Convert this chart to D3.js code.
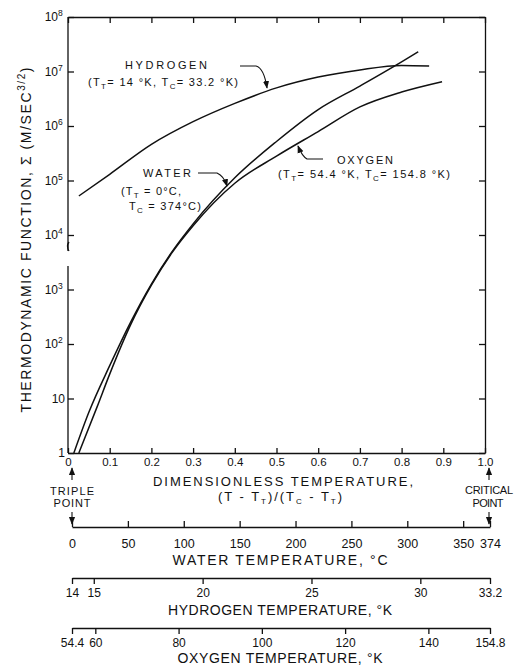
<!DOCTYPE html>
<html>
<head>
<meta charset="utf-8">
<script src="https://cdn.jsdelivr.net/npm/d3@7"></script>
<style>
body { margin: 0; background: #fff; }
svg { font-family: "Liberation Sans", Arial, sans-serif; fill: #111; }
.axis path, .axis line { stroke: #111; stroke-width: 1.3; }
.axis text { fill: #111; }
.curve { fill: none; stroke: #111; stroke-width: 1.5; }
.leader { fill: none; stroke: #111; stroke-width: 1.1; }
</style>
</head>
<body>
<svg width="517" height="667"></svg>
<script>
// dimensionless temperature (T - Tt)/(Tc - Tt) vs sigma
const hydrogenX = [0.026, 0.1, 0.2, 0.3, 0.4, 0.5, 0.6, 0.7, 0.8, 0.866];
const hydrogenSigma = [5.2e4, 1.3e5, 4.6e5, 1.2e6, 2.6e6, 5.0e6, 7.9e6, 1.07e7, 1.29e7, 1.26e7];

const waterX = [0.014, 0.05, 0.1, 0.15, 0.2, 0.25, 0.3, 0.4, 0.5, 0.6, 0.7, 0.8, 0.84];
const waterSigma = [1, 5.6, 40, 250, 1.26e3, 5.0e3, 1.6e4, 1.12e5, 5.2e5, 2.0e6, 5.4e6, 1.5e7, 2.3e7];

const oxygenX = [0.026, 0.07, 0.1, 0.15, 0.2, 0.25, 0.3, 0.4, 0.5, 0.6, 0.7, 0.8, 0.897];
const oxygenSigma = [1, 7.1, 28, 224, 1.2e3, 4.8e3, 1.48e4, 8.9e4, 2.8e5, 7.9e5, 2.24e6, 4.2e6, 6.5e6];

const xTicks = [0, 0.1, 0.2, 0.3, 0.4, 0.5, 0.6, 0.7, 0.8, 0.9, 1.0];
const yTicks = [1, 10, 1e2, 1e3, 1e4, 1e5, 1e6, 1e7, 1e8];

const waterTicks = [0, 50, 100, 150, 200, 250, 300, 350, 374];
const hydrogenTicks = [14, 15, 20, 25, 30, 33.2];
const oxygenTicks = [54.4, 60, 80, 100, 120, 140, 154.8];

const svg = d3.select('svg');
const plotLeft = 68, plotRight = 485, plotTop = 17, plotBottom = 453;

var x = d3.scaleLinear().domain([0, 1]).range([plotLeft, plotRight]);
var y = d3.scaleLog().domain([1, 1e8]).range([plotBottom, plotTop]);

// frame: top, right, bottom axes (ticks inward)
svg.append('g').attr('class', 'axis')
    .attr('transform', `translate(0,${plotTop})`)
    .call(d3.axisBottom(x).tickValues(xTicks).tickSize(6).tickSizeOuter(0).tickFormat(''));
svg.append('g').attr('class', 'axis')
    .attr('transform', `translate(${plotRight},0)`)
    .call(d3.axisLeft(y).tickValues(yTicks).tickSize(6).tickSizeOuter(0).tickFormat(''));
svg.append('g').attr('class', 'axis')
    .attr('transform', `translate(0,${plotBottom})`)
    .call(d3.axisBottom(x).tickValues(xTicks).tickSize(-5).tickSizeOuter(0).tickPadding(5)
        .tickFormat(d => d === 0 ? '0' : d === 1 ? '1.0' : d.toFixed(1)))
    .selectAll('text').style('font-size', '11.5px');

// left axis, drawn with a break between 10^4 and 10^3
var yAxisLeft = svg.append('g').attr('class', 'axis')
    .attr('transform', `translate(${plotLeft},0)`)
    .call(d3.axisRight(y).tickValues(yTicks).tickSize(6).tickFormat(''));
yAxisLeft.select('.domain').remove();
yAxisLeft.append('path').attr('d', `M0,${plotTop}V251M0,266V${plotBottom}`);
yAxisLeft.append('path').attr('d', 'M1,242q-3,4,0,9').style('fill', 'none');

var yLabels = svg.append('g').style('font-size', '12px');
yTicks.forEach(v => {
    const p = Math.round(Math.log10(v));
    yLabels.append('text')
        .attr('x', p < 2 ? plotLeft - 3 : plotLeft - 10)
        .attr('y', y(v) + 4)
        .attr('text-anchor', 'end')
        .text(p === 0 ? '1' : '10');
    if (p >= 2) {
        yLabels.append('text')
            .attr('x', plotLeft - 10)
            .attr('y', y(v) - 1)
            .style('font-size', '8.5px')
            .text(p);
    }
});

// y title
svg.append('text')
    .attr('transform', 'translate(31,240)rotate(-90)')
    .attr('text-anchor', 'middle')
    .attr('textLength', 345)
    .style('font-size', '14px')
    .html('THERMODYNAMIC FUNCTION, \u03a3 (M/SEC<tspan dy="-6" font-size="10px">3/2</tspan><tspan dy="6">)</tspan>');

// curves
var line = d3.line()
    .x(d => x(d[0]))
    .y(d => y(d[1]))
    .curve(d3.curveMonotoneX);

[[hydrogenX, hydrogenSigma], [waterX, waterSigma], [oxygenX, oxygenSigma]].forEach(s => {
    svg.append('path')
        .datum(s[0].map((v, i) => [v, s[1][i]]))
        .attr('class', 'curve')
        .attr('d', line);
});

// curve labels with leaders
svg.append('defs').append('marker')
    .attr('id', 'head')
    .attr('viewBox', '0 0 10 10')
    .attr('refX', 9).attr('refY', 5)
    .attr('markerWidth', 7).attr('markerHeight', 7)
    .attr('orient', 'auto')
    .append('path').attr('d', 'M0,1L10,5L0,9Z');

function label(xp, yp, txt, len, size) {
    return svg.append('text')
        .attr('x', xp).attr('y', yp)
        .attr('textLength', len)
        .style('font-size', (size || 11) + 'px')
        .html(txt);
}
const sub = s => `<tspan dy="3" font-size="8px">${s}</tspan><tspan dy="-3">`;

label(125, 69, 'HYDROGEN', 82);
label(88, 86, '(T' + sub('T') + '= 14 \u00b0K, T' + sub('C') + '= 33.2 \u00b0K)</tspan></tspan>', 150);
label(143, 177, 'WATER', 48);
label(121, 195, '(T' + sub('T') + ' = 0\u00b0C,</tspan>', 60);
label(129, 210, 'T' + sub('C') + ' = 374\u00b0C)</tspan>', 72);
label(337, 164, 'OXYGEN', 56);
label(278, 178, '(T' + sub('T') + '= 54.4 \u00b0K, T' + sub('C') + '= 154.8 \u00b0K)</tspan></tspan>', 172);

svg.append('path').attr('class', 'leader').attr('marker-end', 'url(#head)')
    .attr('d', 'M240,66H256Q264,68,267,88');
svg.append('path').attr('class', 'leader').attr('marker-end', 'url(#head)')
    .attr('d', 'M198,173H217Q224,176,227,186');
svg.append('path').attr('class', 'leader').attr('marker-end', 'url(#head)')
    .attr('d', 'M323,159H307Q302,156,298,146');

// lower temperature scales
const x0 = 72, x1 = 490;
var waterScale = d3.scaleLinear().domain([0, 374]).range([x0, x1]);
var hydrogenScale = d3.scaleLinear().domain([14, 33.2]).range([x0, x1]);
var oxygenScale = d3.scaleLinear().domain([54.4, 154.8]).range([x0, x1]);

svg.append('g').attr('class', 'axis')
    .attr('transform', 'translate(0,527)')
    .call(d3.axisBottom(waterScale).tickValues(waterTicks).tickSize(-6).tickSizeOuter(0).tickPadding(12))
    .selectAll('text').style('font-size', '12.5px');
svg.append('g').attr('class', 'axis')
    .attr('transform', 'translate(0,578)')
    .call(d3.axisBottom(hydrogenScale).tickValues(hydrogenTicks).tickSize(6).tickSizeOuter(0).tickPadding(4)
        .tickFormat(d => String(d)))
    .selectAll('text').style('font-size', '12px');
svg.append('g').attr('class', 'axis')
    .attr('transform', 'translate(0,628)')
    .call(d3.axisBottom(oxygenScale).tickValues(oxygenTicks).tickSize(6).tickSizeOuter(0).tickPadding(4)
        .tickFormat(d => String(d)))
    .selectAll('text').style('font-size', '12px');

function title(cx, yp, txt, len, size) {
    return svg.append('text')
        .attr('x', cx).attr('y', yp)
        .attr('text-anchor', 'middle')
        .attr('textLength', len)
        .style('font-size', (size || 14) + 'px')
        .html(txt);
}
title(283, 486, 'DIMENSIONLESS TEMPERATURE,', 260, 13);
title(280, 501, '(T - T' + sub('T') + ')/(T</tspan>' + sub('C') + ' - T</tspan>' + sub('T') + ')</tspan>', 124, 13);
title(280, 565, 'WATER TEMPERATURE, \u00b0C', 215);
title(280, 615, 'HYDROGEN TEMPERATURE, \u00b0K', 224);
title(280, 663, 'OXYGEN TEMPERATURE, \u00b0K', 205);

title(72, 495, 'TRIPLE', 44, 11);
title(72, 507, 'POINT', 37, 11);
title(489, 494, 'CRITICAL', 48, 11);
title(488, 507, 'POINT', 31, 11);

// arrows at the two ends
[[72, 480, 468], [72, 512, 524], [489, 480, 468], [489, 512, 524]].forEach(a => {
    svg.append('path').attr('class', 'leader').attr('marker-end', 'url(#head)')
        .attr('d', `M${a[0]},${a[1]}V${a[2]}`);
});
</script>
</body>
</html>
